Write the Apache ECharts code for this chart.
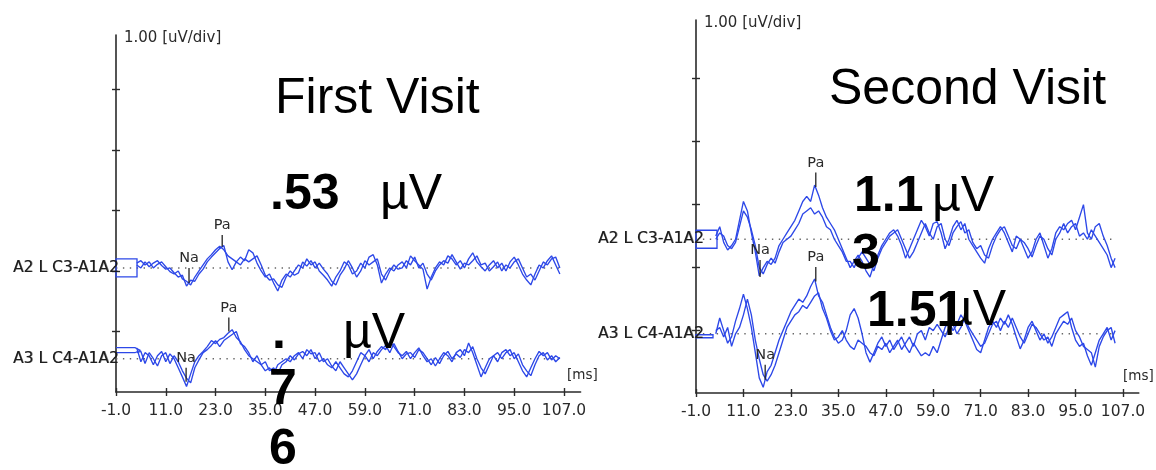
<!DOCTYPE html>
<html><head><meta charset="utf-8">
<script src="https://cdn.jsdelivr.net/npm/echarts@6/dist/echarts.min.js"></script>
<style>html,body{margin:0;padding:0;background:#fff}#c{width:1156px;height:470px}</style>
</head><body><div id="c"></div>
<script>
// ---------- data ----------
const tickLabels = [-1, 11, 23, 35, 47, 59, 71, 83, 95, 107];
const yTicks = [1, 2, 3, 4, 5];
const channelNames = ['A2 L C3-A1A2', 'A3 L C4-A1A2'];
const panelTitles = ['First Visit', 'Second Visit'];

// sample times (ms)
const timeV1 = [4,5,6,7,8,9,10,11,12,13,14,15,16,17,18,19,20,21,22,23,24,25,26,27,28,29,30,31,32,33,34,35,36,37,38,39,40,41,42,43,44,45,46,47,48,49,50,51,52,53,54,55,56,57,58,59,60,61,62,63,64,65,66,67,68,69,70,71,72,73,74,75,76,77,78,79,80,81,82,83,84,85,86,87,88,89,90,91,92,93,94,95,96,97,98,99,100,101,102,103,104,105,106];
const timeV2 = [4,5,6,7,8,9,10,11,12,13,14,15,16,17,18,19,20,21,22,23,24,25,26,27,28,29,30,31,32,33,34,35,36,37,38,39,40,41,42,43,44,45,46,47,48,49,50,51,52,53,54,55,56,57,58,59,60,61,62,63,64,65,66,67,68,69,70,71,72,73,74,75,76,77,78,79,80,81,82,83,84,85,86,87,88,89,90,91,92,93,94,95,96,97,98,99,100,101,102,103,104,105];

// First visit, uV relative to channel baseline
const v1C3a = [0.08,0.12,0.05,0.1,0.0,0.06,0.1,0.02,-0.06,-0.1,
  -0.05,-0.18,-0.22,-0.28,-0.15,-0.05,0.05,0.15,0.22,0.3,
  0.36,0.3,0.2,0.15,0.1,0.18,0.12,0.3,0.25,0.08,
  -0.05,-0.15,-0.1,-0.25,-0.38,-0.2,-0.1,-0.15,-0.05,0.05,
  0.0,0.15,0.05,0.1,-0.05,-0.12,-0.2,-0.3,-0.15,-0.05,
  0.1,0.05,-0.1,-0.05,0.08,0.0,0.18,0.22,0.05,-0.25,
  -0.1,0.0,-0.05,0.05,0.1,0.0,0.2,0.12,0.05,-0.02,
  -0.35,-0.15,0.0,0.1,0.05,0.2,0.15,0.05,0.12,0.0,
  0.15,0.25,0.1,0.02,-0.05,0.05,0.12,0.0,0.08,-0.05,
  0.1,0.18,0.05,-0.1,-0.2,-0.28,-0.1,0.05,0.0,0.12,
  0.2,0.05,-0.1];
const v1C3b = [0.05,0.0,0.1,0.02,0.08,0.12,0.04,-0.02,0.0,-0.08,
  -0.15,-0.12,-0.3,-0.2,-0.22,-0.1,-0.02,0.1,0.18,0.25,
  0.32,0.37,0.1,-0.03,0.1,0.05,0.15,0.1,0.15,0.2,
  0.05,-0.12,-0.2,-0.18,-0.28,-0.32,-0.15,-0.05,-0.12,-0.08,
  0.1,0.03,0.12,0.0,0.08,-0.02,-0.1,-0.22,-0.28,-0.12,
  -0.02,0.12,0.0,-0.15,-0.05,0.12,0.05,0.1,0.15,-0.1,
  -0.2,-0.05,0.05,-0.02,0.0,0.12,0.05,0.18,0.0,0.08,
  -0.1,-0.2,-0.05,0.05,0.12,0.08,0.22,0.1,-0.02,0.08,
  0.05,0.12,0.2,0.05,0.08,-0.05,0.02,0.1,-0.05,0.05,
  0.0,0.1,0.15,0.0,-0.15,-0.1,-0.2,-0.05,0.1,0.05,
  0.15,0.18,0.0];
const v1C4a = [0.18,-0.05,0.1,0.05,-0.1,0.05,0.12,-0.05,0.08,0.0,
  -0.15,-0.3,-0.46,-0.25,-0.05,0.05,0.12,0.2,0.3,0.25,
  0.32,0.35,0.42,0.48,0.35,0.28,0.15,0.05,0.0,-0.05,
  -0.1,-0.2,-0.15,-0.25,-0.1,-0.05,0.0,-0.05,0.05,0.1,
  0.0,0.15,0.08,0.1,-0.05,0.0,-0.1,-0.15,-0.05,-0.15,
  -0.25,-0.3,-0.2,-0.05,0.1,0.05,0.15,0.0,0.12,0.2,
  0.15,0.28,0.2,0.1,0.05,0.12,0.0,0.1,0.18,0.05,
  -0.05,0.0,-0.12,0.0,0.1,0.05,-0.05,0.1,0.15,0.05,
  0.26,0.1,-0.1,-0.3,-0.15,0.0,0.05,-0.05,0.1,0.15,
  0.05,0.1,-0.05,-0.2,-0.3,-0.15,0.0,0.12,0.05,0.1,
  -0.02,0.05,0.0];
const v1C4b = [0.1,0.12,-0.08,0.1,0.0,-0.12,0.05,0.1,-0.08,0.05,
  -0.05,-0.2,-0.32,-0.4,-0.15,-0.02,0.1,0.15,0.22,0.3,
  0.2,0.3,0.35,0.4,0.45,0.25,0.2,0.1,-0.05,0.05,
  -0.1,-0.05,-0.2,-0.15,-0.25,-0.1,-0.05,0.05,-0.02,0.08,
  0.12,0.05,0.15,0.0,0.1,-0.05,0.0,-0.12,-0.2,-0.05,
  -0.15,-0.25,-0.35,-0.25,-0.1,0.05,-0.05,0.1,0.05,0.15,
  0.22,0.1,0.25,0.12,0.0,0.08,0.1,0.02,0.15,0.1,
  0.0,-0.1,0.02,-0.08,0.05,0.12,0.0,0.08,0.02,0.15,
  0.1,0.2,0.0,-0.15,-0.25,-0.1,0.05,0.1,0.0,0.1,
  0.15,0.0,0.08,-0.1,-0.2,-0.28,-0.1,0.05,0.1,-0.02,
  0.05,-0.05,0.02];

// Second visit
const v2C3a = [0.05,0.2,-0.05,-0.17,-0.1,0.0,0.3,0.6,0.45,0.1,
  -0.2,-0.58,-0.45,-0.35,-0.4,-0.3,-0.1,0.0,0.1,0.2,
  0.3,0.45,0.6,0.68,0.6,0.86,0.7,0.5,0.35,0.25,
  0.15,0.0,-0.15,-0.3,-0.45,-0.35,-0.25,-0.35,-0.5,-0.6,
  -0.4,-0.25,-0.1,0.0,0.1,0.15,0.05,-0.1,-0.3,-0.15,
  0.0,0.15,0.3,0.2,0.05,0.25,0.28,0.1,-0.15,0.0,
  0.2,0.3,0.15,0.25,0.0,-0.1,-0.2,-0.3,-0.38,-0.15,
  0.0,0.1,0.2,0.1,-0.05,-0.2,0.05,0.0,-0.15,-0.3,
  -0.2,0.0,0.1,-0.1,-0.3,-0.15,0.1,0.2,0.15,0.25,
  0.3,0.15,0.35,0.55,0.1,0.0,0.2,0.25,0.05,-0.1,
  -0.3,-0.45];
const v2C3b = [0.0,0.1,0.05,-0.1,-0.15,-0.05,0.2,0.45,0.35,0.15,
  -0.1,-0.45,-0.55,-0.4,-0.3,-0.38,-0.2,-0.05,0.0,0.05,
  0.15,0.25,0.4,0.45,0.5,0.4,0.45,0.35,0.2,0.15,
  0.0,-0.1,-0.2,-0.35,-0.35,-0.45,-0.3,-0.2,-0.3,-0.4,
  -0.5,-0.3,-0.15,-0.05,0.05,0.1,0.15,0.0,-0.15,-0.3,
  -0.2,-0.05,0.1,0.25,0.1,0.0,0.2,0.25,0.0,-0.1,
  0.1,0.2,0.28,0.1,0.15,-0.05,-0.15,-0.1,-0.25,-0.3,
  -0.1,0.05,0.15,0.2,0.05,-0.1,-0.15,0.0,-0.05,-0.15,
  -0.28,-0.1,0.05,0.0,-0.15,-0.25,0.0,0.1,0.25,0.1,
  0.2,0.25,0.05,0.1,0.0,0.15,0.05,-0.05,-0.15,-0.25,
  -0.45,-0.3];
const v2C4a = [0.0,0.25,0.05,-0.15,-0.05,0.2,0.4,0.63,0.4,0.1,
  -0.3,-0.7,-0.85,-0.6,-0.5,-0.3,-0.1,0.05,0.2,0.35,
  0.45,0.55,0.5,0.6,0.75,0.87,0.6,0.5,0.3,0.1,
  -0.05,-0.15,-0.1,0.05,0.3,0.4,0.25,0.0,-0.3,-0.45,
  -0.3,-0.15,-0.05,-0.2,-0.1,-0.25,-0.15,-0.05,-0.2,-0.3,
  -0.15,-0.25,-0.35,-0.3,-0.35,-0.2,-0.3,-0.1,0.1,0.2,
  0.05,0.15,0.3,0.2,0.05,-0.1,-0.25,-0.3,-0.1,0.1,
  0.2,0.1,0.25,0.15,0.3,0.15,-0.05,-0.24,-0.1,0.1,
  0.2,0.05,-0.1,0.0,-0.15,-0.05,0.1,0.25,0.3,0.35,
  0.1,-0.1,-0.2,-0.15,-0.35,-0.5,-0.3,-0.1,0.0,0.1,
  -0.1,0.05];
const v2C4b = [0.05,0.1,-0.05,0.1,-0.2,0.0,0.1,0.3,0.55,0.3,
  -0.1,-0.4,-0.65,-0.75,-0.65,-0.5,-0.3,-0.1,0.1,0.2,
  0.3,0.35,0.45,0.4,0.5,0.6,0.65,0.4,0.25,0.05,
  -0.1,-0.05,0.05,-0.1,-0.2,-0.25,-0.1,-0.15,-0.2,-0.3,
  -0.35,-0.2,-0.25,-0.15,-0.3,-0.2,-0.1,-0.25,-0.15,-0.05,
  -0.2,0.0,0.05,-0.1,0.1,0.05,0.15,0.05,-0.05,0.1,
  0.15,0.0,0.1,0.25,0.1,0.0,-0.1,-0.2,-0.15,0.0,
  0.15,0.2,0.05,0.2,0.1,0.25,0.1,-0.05,-0.15,0.0,
  0.15,0.1,0.0,-0.1,-0.05,-0.2,0.0,0.1,0.2,0.15,
  0.25,0.05,-0.05,-0.2,-0.25,-0.3,-0.53,-0.2,-0.05,0.05,
  0.1,-0.15];

// peak markers: channel index, latency (ms), marker line top / bottom (uV rel. baseline)
const peakNames = ['Na', 'Pa', 'Na', 'Pa'];
const peakChannel = [0, 0, 1, 1];
const v1PeakMs = [16.6, 24.6, 15.9, 26.2];
const v1PeakTop = [0.0, 0.545, -0.15, 0.68];
const v1PeakBottom = [-0.25, 0.35, -0.38, 0.45];
const v2PeakMs = [15.2, 29.3, 16.5, 29.3];
const v2PeakTop = [-0.33, 1.06, -0.49, 1.06];
const v2PeakBottom = [-0.6, 0.83, -0.73, 0.83];

// ---------- layout ----------
const BLUE = '#2d48e8';
const AX = '#2a2a2a';
const SMALL = '"DejaVu Sans", sans-serif';
const BIG = '"Liberation Sans", Arial, sans-serif';
const panels = [
  {grid: {left: 116, top: 35, width: 464.6, height: 357}, ymax: 5.9, offsets: [2.05, 0.55],
   t: timeV1, traces: [[v1C3a, v1C3b], [v1C4a, v1C4b]], lineEnd: 106,
   pk: [v1PeakMs, v1PeakTop, v1PeakBottom]},
  {grid: {left: 696, top: 20, width: 442.8, height: 373}, ymax: 5.92, offsets: [2.44, 0.94],
   t: timeV2, traces: [[v2C3a, v2C3b], [v2C4a, v2C4b]], lineEnd: 105,
   pk: [v2PeakMs, v2PeakTop, v2PeakBottom]}
];

const grids = [], xAxes = [], yAxes = [], series = [];
panels.forEach((p, g) => {
  grids.push(Object.assign({containLabel: false}, p.grid));
  const tickStyle = {color: AX, width: 1.4};
  xAxes.push({gridIndex: g, type: 'value', min: -1, max: 111, position: 'bottom',
    axisLine: {onZero: false, lineStyle: {color: AX, width: 1.6}},
    axisTick: {customValues: tickLabels, length: 4, lineStyle: tickStyle},
    axisLabel: {customValues: tickLabels, formatter: v => v.toFixed(1), fontFamily: SMALL, fontSize: 15.5, color: '#2a2a2a', margin: 11},
    splitLine: {show: false}});
  xAxes.push({gridIndex: g, type: 'value', min: -1, max: 111, position: 'bottom',
    axisLine: {show: false, onZero: false},
    axisTick: {inside: true, customValues: tickLabels, length: 4, lineStyle: tickStyle},
    axisLabel: {show: false}, splitLine: {show: false}});
  yAxes.push({gridIndex: g, type: 'value', min: 0, max: p.ymax, position: 'left',
    axisLine: {show: true, onZero: false, lineStyle: {color: AX, width: 1.6}},
    axisTick: {show: true, customValues: yTicks, length: 4, lineStyle: tickStyle},
    axisLabel: {show: false}, splitLine: {show: false}});
  yAxes.push({gridIndex: g, type: 'value', min: 0, max: p.ymax, position: 'left',
    axisLine: {show: false, onZero: false},
    axisTick: {show: true, inside: true, customValues: yTicks, length: 4, lineStyle: tickStyle},
    axisLabel: {show: false}, splitLine: {show: false}});
  p.offsets.forEach((off, c) => {
    series.push({type: 'line', xAxisIndex: 2 * g, yAxisIndex: 2 * g, silent: true, symbol: 'none',
      data: [[-1, off], [p.lineEnd, off]],
      lineStyle: {color: '#666', width: 1.4, type: [1.4, 5.5]}, z: 1});
    p.traces[c].forEach(vals => {
      series.push({type: 'line', xAxisIndex: 2 * g, yAxisIndex: 2 * g, silent: true, symbol: 'none',
        data: vals.map((v, i) => [p.t[i], v + off]),
        lineStyle: {color: BLUE, width: 1.35}, z: 3});
    });
  });
});

const chart = echarts.init(document.getElementById('c'), null, {renderer: 'canvas'});
chart.setOption({
  animation: false, backgroundColor: '#fff',
  grid: grids, xAxis: xAxes, yAxis: yAxes, series: series
});

// ---------- annotations ----------
const gfx = [];
function txt(x, y, text, font, fill, align) {
  gfx.push({type: 'text', x: x, y: y, z: 20, silent: true,
    style: {text: text, font: font, fill: fill, align: align || 'left', verticalAlign: 'middle'}});
}
panels.forEach((p, g) => {
  const toPx = (x, y) => chart.convertToPixel({xAxisIndex: 2 * g, yAxisIndex: 2 * g}, [x, y]);
  // channel labels + markers
  p.offsets.forEach((off, c) => {
    const b = toPx(-1, off);
    const lx = g === 0 ? 13 : 598;
    txt(lx, b[1], channelNames[c], '15.5px ' + SMALL, '#1e1e1e');
    txt(lx + 0.6, b[1], channelNames[c], '15.5px ' + SMALL, 'rgba(30,30,30,0.6)');
    if (c === 0) {
      gfx.push({type: 'rect', z: 15, silent: true, shape: {x: b[0], y: b[1] - 9, width: 21, height: 18},
        style: {fill: 'none', stroke: BLUE, lineWidth: 1.3}});
    } else if (g === 0) {
      gfx.push({type: 'polyline', z: 15, silent: true,
        shape: {points: [[b[0], b[1] - 11], [b[0] + 19, b[1] - 11], [b[0] + 24, b[1] - 8.5], [b[0] + 19, b[1] - 6], [b[0], b[1] - 6]]},
        style: {fill: 'none', stroke: BLUE, lineWidth: 1.3}});
    } else {
      gfx.push({type: 'rect', z: 15, silent: true, shape: {x: b[0], y: b[1] + 1, width: 17, height: 3},
        style: {fill: 'none', stroke: BLUE, lineWidth: 1.3}});
    }
  });
  // peak markers
  peakNames.forEach((nm, k) => {
    const off = p.offsets[peakChannel[k]];
    const top = toPx(p.pk[0][k], off + p.pk[1][k]);
    const bot = toPx(p.pk[0][k], off + p.pk[2][k]);
    gfx.push({type: 'line', z: 16, silent: true, shape: {x1: top[0], y1: top[1], x2: bot[0], y2: bot[1]},
      style: {stroke: '#222', lineWidth: 1.3}});
    gfx.push({type: 'text', x: top[0], y: top[1] - 2, z: 16, silent: true,
      style: {text: nm, font: '14.5px ' + SMALL, fill: '#2a2a2a', align: 'center', verticalAlign: 'bottom'}});
  });
  // unit labels
  const axTop = toPx(-1, p.ymax);
  txt(axTop[0] + 8, axTop[1] + 3, '1.00 [uV/div]', '15px ' + SMALL, '#2a2a2a');
  const xEnd = toPx(107, 0);
  txt(xEnd[0] + (g === 0 ? 3 : 0), xEnd[1] - 17, '[ms]', '13.5px ' + SMALL, '#2a2a2a');
});

// big overlay texts
txt(275, 99, panelTitles[0], '50px ' + BIG, '#000');
txt(829, 90, panelTitles[1], '50px ' + BIG, '#000');
txt(270, 195, '.53', 'bold 50px ' + BIG, '#000');
txt(380, 195, 'µV', '50px ' + BIG, '#000');
txt(272, 334, '.', 'bold 50px ' + BIG, '#000');
txt(343, 334, 'µV', '50px ' + BIG, '#000');
txt(269, 390, '7', 'bold 50px ' + BIG, '#000');
txt(269, 450, '6', 'bold 50px ' + BIG, '#000');
txt(854, 197, '1.1', 'bold 50px ' + BIG, '#000');
txt(932, 197, 'µV', '50px ' + BIG, '#000');
txt(852, 255, '3', 'bold 50px ' + BIG, '#000');
txt(867, 312, '1.51', 'bold 50px ' + BIG, '#000');
txt(944, 311, 'µV', '50px ' + BIG, '#000');

chart.setOption({graphic: gfx});
</script>
</body></html>
